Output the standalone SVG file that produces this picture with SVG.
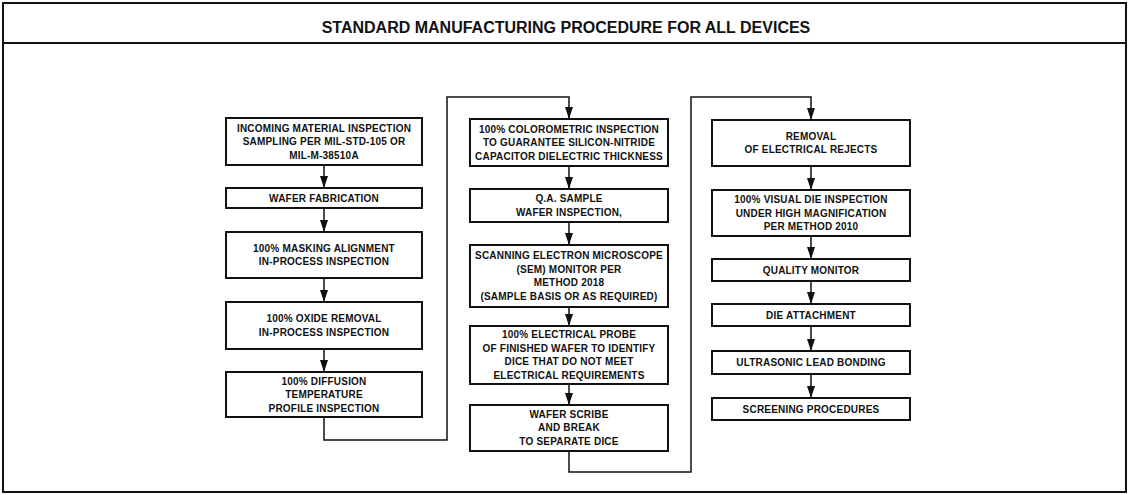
<svg xmlns="http://www.w3.org/2000/svg" width="1132" height="495" viewBox="0 0 1132 495">
<style>
.frame{fill:none;stroke:#111;stroke-width:2}
.box{fill:#fff;stroke:#111;stroke-width:2}
.t{font-family:"Liberation Sans",Arial,sans-serif;font-weight:bold;font-size:10px;letter-spacing:0.2px;fill:#111;text-anchor:middle}
.title{font-family:"Liberation Sans",Arial,sans-serif;font-weight:bold;font-size:16px;fill:#111;text-anchor:middle}
.c{fill:none;stroke:#111;stroke-width:1.5}
</style>
<defs>
<marker id="ah" viewBox="0 0 12 8" refX="12" refY="4" markerWidth="12" markerHeight="8" markerUnits="userSpaceOnUse" orient="auto">
<path d="M0,0 L12,4 L0,8 z" fill="#111"/>
</marker>
</defs>
<rect width="1132" height="495" fill="#fff"/>
<g id="frame">
<rect class="frame" x="3" y="3" width="1123" height="489"/>
<line class="frame" x1="3" y1="43" x2="1126" y2="43"/>
<text class="title" x="566" y="33">STANDARD MANUFACTURING PROCEDURE FOR ALL DEVICES</text>
</g>
<g id="connectors">
<line class="c" x1="324" y1="165" x2="324" y2="188" marker-end="url(#ah)"/>
<line class="c" x1="324" y1="208" x2="324" y2="232" marker-end="url(#ah)"/>
<line class="c" x1="324" y1="278" x2="324" y2="302" marker-end="url(#ah)"/>
<line class="c" x1="324" y1="349" x2="324" y2="372" marker-end="url(#ah)"/>
<polyline class="c" points="324,417 324,440 447,440 447,97 569,97 569,119" marker-end="url(#ah)"/>
<line class="c" x1="569" y1="166" x2="569" y2="189" marker-end="url(#ah)"/>
<line class="c" x1="569" y1="222" x2="569" y2="245" marker-end="url(#ah)"/>
<line class="c" x1="569" y1="307" x2="569" y2="326" marker-end="url(#ah)"/>
<line class="c" x1="569" y1="384" x2="569" y2="405" marker-end="url(#ah)"/>
<polyline class="c" points="569,451 569,472 691,472 691,97 811,97 811,120" marker-end="url(#ah)"/>
<line class="c" x1="811" y1="166" x2="811" y2="190" marker-end="url(#ah)"/>
<line class="c" x1="811" y1="236" x2="811" y2="259" marker-end="url(#ah)"/>
<line class="c" x1="811" y1="281" x2="811" y2="304" marker-end="url(#ah)"/>
<line class="c" x1="811" y1="326" x2="811" y2="351" marker-end="url(#ah)"/>
<line class="c" x1="811" y1="374" x2="811" y2="398" marker-end="url(#ah)"/>
</g>
<g id="n1"><rect class="box" x="226" y="118" width="196" height="47"/>
<text class="t" x="324" y="131.5">INCOMING MATERIAL INSPECTION</text>
<text class="t" x="324" y="145">SAMPLING PER MIL-STD-105 OR</text>
<text class="t" x="324" y="158.5">MIL-M-38510A</text></g>
<g id="n2"><rect class="box" x="226" y="188" width="196" height="20"/>
<text class="t" x="324" y="201.5">WAFER FABRICATION</text></g>
<g id="n3"><rect class="box" x="226" y="232" width="196" height="46"/>
<text class="t" x="324" y="251.8">100% MASKING ALIGNMENT</text>
<text class="t" x="324" y="265.3">IN-PROCESS INSPECTION</text></g>
<g id="n4"><rect class="box" x="226" y="302" width="196" height="47"/>
<text class="t" x="324" y="322.3">100% OXIDE REMOVAL</text>
<text class="t" x="324" y="335.8">IN-PROCESS INSPECTION</text></g>
<g id="n5"><rect class="box" x="226" y="372" width="196" height="45"/>
<text class="t" x="324" y="384.5">100% DIFFUSION</text>
<text class="t" x="324" y="398">TEMPERATURE</text>
<text class="t" x="324" y="411.5">PROFILE INSPECTION</text></g>
<g id="n6"><rect class="box" x="470" y="119" width="198" height="47"/>
<text class="t" x="569" y="132.5">100% COLOROMETRIC INSPECTION</text>
<text class="t" x="569" y="146">TO GUARANTEE SILICON-NITRIDE</text>
<text class="t" x="569" y="159.5">CAPACITOR DIELECTRIC THICKNESS</text></g>
<g id="n7"><rect class="box" x="470" y="189" width="198" height="33"/>
<text class="t" x="569" y="202.3">Q.A. SAMPLE</text>
<text class="t" x="569" y="215.8">WAFER INSPECTION,</text></g>
<g id="n8"><rect class="box" x="470" y="245" width="198" height="62"/>
<text class="t" x="569" y="259.3">SCANNING ELECTRON MICROSCOPE</text>
<text class="t" x="569" y="272.8">(SEM) MONITOR PER</text>
<text class="t" x="569" y="286.3">METHOD 2018</text>
<text class="t" x="569" y="299.8">(SAMPLE BASIS OR AS REQUIRED)</text></g>
<g id="n9"><rect class="box" x="470" y="326" width="198" height="58"/>
<text class="t" x="569" y="338.3">100% ELECTRICAL PROBE</text>
<text class="t" x="569" y="351.8">OF FINISHED WAFER TO IDENTIFY</text>
<text class="t" x="569" y="365.3">DICE THAT DO NOT MEET</text>
<text class="t" x="569" y="378.8">ELECTRICAL REQUIREMENTS</text></g>
<g id="n10"><rect class="box" x="470" y="405" width="198" height="46"/>
<text class="t" x="569" y="417.5">WAFER SCRIBE</text>
<text class="t" x="569" y="431">AND BREAK</text>
<text class="t" x="569" y="444.5">TO SEPARATE DICE</text></g>
<g id="n11"><rect class="box" x="712" y="120" width="198" height="46"/>
<text class="t" x="811" y="139.8">REMOVAL</text>
<text class="t" x="811" y="153.3">OF ELECTRICAL REJECTS</text></g>
<g id="n12"><rect class="box" x="712" y="190" width="198" height="46"/>
<text class="t" x="811" y="203">100% VISUAL DIE INSPECTION</text>
<text class="t" x="811" y="216.5">UNDER HIGH MAGNIFICATION</text>
<text class="t" x="811" y="230">PER METHOD 2010</text></g>
<g id="n13"><rect class="box" x="712" y="259" width="198" height="22"/>
<text class="t" x="811" y="273.5">QUALITY MONITOR</text></g>
<g id="n14"><rect class="box" x="712" y="304" width="198" height="22"/>
<text class="t" x="811" y="318.5">DIE ATTACHMENT</text></g>
<g id="n15"><rect class="box" x="712" y="351" width="198" height="23"/>
<text class="t" x="811" y="366">ULTRASONIC LEAD BONDING</text></g>
<g id="n16"><rect class="box" x="712" y="398" width="198" height="22"/>
<text class="t" x="811" y="412.5">SCREENING PROCEDURES</text></g>
</svg>
